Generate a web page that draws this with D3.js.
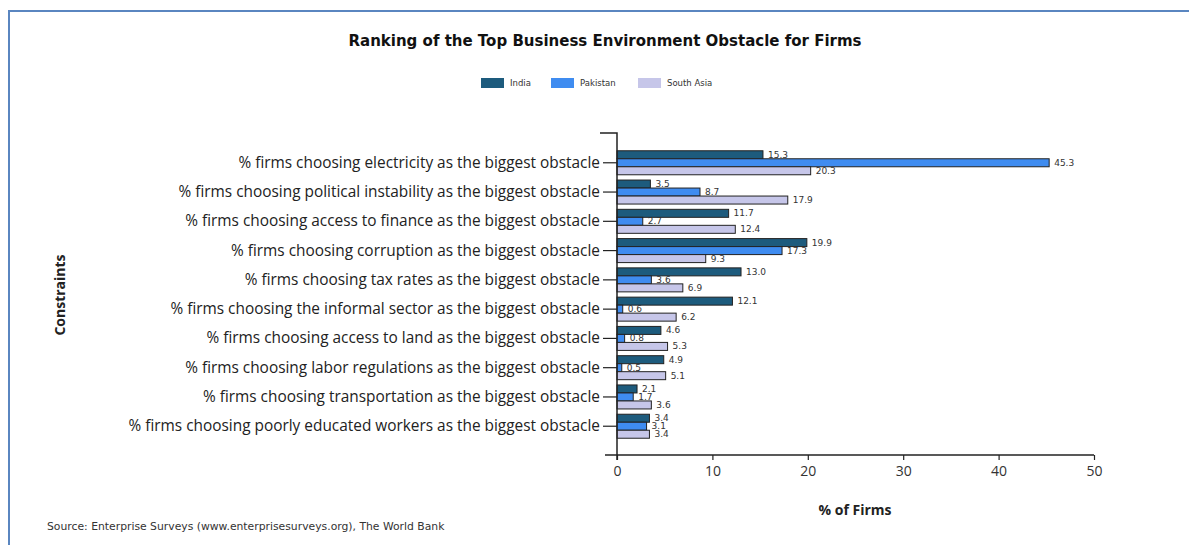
<!DOCTYPE html>
<html>
<head>
<meta charset="utf-8">
<script src="https://cdn.jsdelivr.net/npm/d3@7"></script>
<style>
  body { margin: 0; background: #fff; }
  svg { display: block; }
</style>
</head>
<body>
<script>
// data
var constraints = [
  "% firms choosing electricity as the biggest obstacle",
  "% firms choosing political instability as the biggest obstacle",
  "% firms choosing access to finance as the biggest obstacle",
  "% firms choosing corruption as the biggest obstacle",
  "% firms choosing tax rates as the biggest obstacle",
  "% firms choosing the informal sector as the biggest obstacle",
  "% firms choosing access to land as the biggest obstacle",
  "% firms choosing labor regulations as the biggest obstacle",
  "% firms choosing transportation as the biggest obstacle",
  "% firms choosing poorly educated workers as the biggest obstacle"
];
var seriesNames = ["India", "Pakistan", "South Asia"];
var india = [15.3, 3.5, 11.7, 19.9, 13.0, 12.1, 4.6, 4.9, 2.1, 3.4];
var pakistan = [45.3, 8.7, 2.7, 17.3, 3.6, 0.6, 0.8, 0.5, 1.7, 3.1];
var southAsia = [20.3, 17.9, 12.4, 9.3, 6.9, 6.2, 5.3, 5.1, 3.6, 3.4];
var xTicks = [0, 10, 20, 30, 40, 50];

var series = [india, pakistan, southAsia];
var colors = ["#1d5b7d", "#3f8cf0", "#c6c6e9"];

var W = 1189, H = 545;
var svg = d3.select("body").append("svg").attr("width", W).attr("height", H);

// frame
svg.append("path")
  .attr("d", "M9," + H + "L9,11L" + W + ",11")
  .attr("fill", "none").attr("stroke", "#5a86c0").attr("stroke-width", 2);

// title
svg.append("text")
  .attr("x", 605).attr("y", 46)
  .attr("text-anchor", "middle")
  .style("font-family", "'DejaVu Sans', sans-serif")
  .style("font-weight", "bold").style("font-size", "15px")
  .attr("fill", "#111")
  .text("Ranking of the Top Business Environment Obstacle for Firms");

// legend
var legX = [481, 551, 638];
seriesNames.forEach(function(n, i) {
  svg.append("rect").attr("x", legX[i]).attr("y", 78).attr("width", 23).attr("height", 10)
    .attr("fill", colors[i]);
  svg.append("text").attr("x", legX[i] + 29).attr("y", 86)
    .style("font-family", "'DejaVu Sans', sans-serif").style("font-size", "8.5px")
    .attr("fill", "#333").text(n);
});

// scales
var x0 = 617, x1 = 1094, yTop = 133, yBot = 455;
var x = d3.scaleLinear().domain([0, 50]).range([x0, x1]);
var y = d3.scalePoint().domain(constraints).range([yTop, yBot]).padding(1);
var yIn = d3.scaleBand().domain([0, 1, 2]).range([-11.5, 12.5]);

// bars
series.forEach(function(vals, s) {
  var g = svg.append("g");
  g.selectAll("rect").data(vals).enter().append("rect")
    .attr("x", x(0))
    .attr("y", function(d, i) { return y(constraints[i]) + yIn(s); })
    .attr("width", function(d) { return x(d) - x(0); })
    .attr("height", yIn.bandwidth())
    .attr("fill", colors[s])
    .attr("stroke", "#222").attr("stroke-width", 1);
  g.selectAll("text").data(vals).enter().append("text")
    .attr("x", function(d) { return x(d) + 5; })
    .attr("y", function(d, i) { return y(constraints[i]) + yIn(s) + yIn.bandwidth() / 2 + 3; })
    .style("font-family", "'DejaVu Sans', sans-serif").style("font-size", "9px")
    .attr("fill", "#333")
    .text(function(d) { return d3.format(".1f")(d); });
});

// y axis
var yAxis = svg.append("g").attr("transform", "translate(" + x0 + ",0)")
  .call(d3.axisLeft(y).tickSize(14).tickPadding(3));
yAxis.select(".domain").remove();
yAxis.append("path").attr("d", "M-17," + yTop + "H0V" + (yBot + 5))
  .attr("fill", "none").attr("stroke", "#222").attr("stroke-width", 1.5);
yAxis.selectAll(".tick line").attr("stroke", "#222").attr("stroke-width", 1.2);
yAxis.selectAll(".tick text")
  .style("font-family", "'Open Sans', sans-serif").style("font-size", "15.4px")
  .attr("fill", "#222");

// x axis
var xAxis = svg.append("g").attr("transform", "translate(0," + yBot + ")")
  .call(d3.axisBottom(x).tickValues(xTicks).tickSize(5).tickPadding(6));
xAxis.select(".domain").attr("d", "M605,0H" + x1).attr("stroke", "#222").attr("stroke-width", 1.5);
xAxis.selectAll(".tick line").attr("stroke", "#222").attr("stroke-width", 1.2);
xAxis.selectAll(".tick text")
  .style("font-family", "'Open Sans', sans-serif").style("font-size", "14px")
  .attr("fill", "#333");

// axis titles
svg.append("text").attr("x", 855).attr("y", 515).attr("text-anchor", "middle")
  .style("font-family", "'Open Sans', sans-serif").style("font-weight", "bold").style("font-size", "14px")
  .attr("fill", "#222").text("% of Firms");
svg.append("text").attr("transform", "translate(65,295) rotate(-90)").attr("text-anchor", "middle")
  .style("font-family", "'Open Sans', sans-serif").style("font-weight", "bold").style("font-size", "14px")
  .attr("fill", "#222").text("Constraints");

// source
svg.append("text").attr("x", 47).attr("y", 530)
  .style("font-family", "'DejaVu Sans', sans-serif").style("font-size", "10.8px")
  .attr("fill", "#333").text("Source: Enterprise Surveys (www.enterprisesurveys.org), The World Bank");
</script>
</body>
</html>
